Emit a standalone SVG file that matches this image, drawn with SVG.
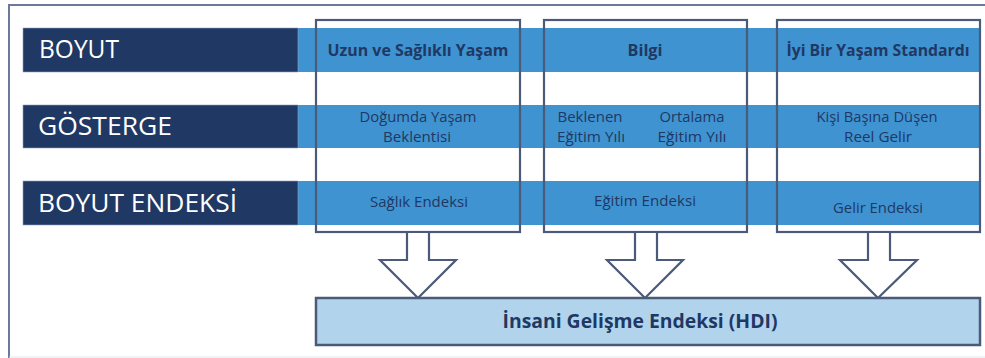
<svg xmlns="http://www.w3.org/2000/svg" width="985" height="358" viewBox="0 0 985 358">
<style>
.frame{fill:none;stroke:#6b7a99;stroke-width:2}
.navy{fill:#1f3864;stroke:#8fa0bf;stroke-width:0.6}
.blue{fill:#3f93d0}
.box{fill:none;stroke:#4a5a78;stroke-width:2.2}
.arrow{fill:#ffffff;stroke:#4a5a78;stroke-width:2.2;stroke-linejoin:miter}
.hdi{fill:#b1d4ec;stroke:#4a5a78;stroke-width:2.5}
.lbl{font-family:"Open Sans","Noto Sans",sans-serif;font-size:25px;fill:#ffffff}
.hd{font-family:"Open Sans","Noto Sans",sans-serif;font-size:15.5px;font-weight:bold;fill:#1f3864;text-anchor:middle}
.tx{font-family:"Open Sans","Noto Sans",sans-serif;font-size:14.5px;fill:#1f3864;text-anchor:middle}
.big{font-family:"Open Sans","Noto Sans",sans-serif;font-size:19.5px;font-weight:bold;fill:#1f3864;text-anchor:middle}
</style>
<rect x="0" y="0" width="985" height="358" fill="#ffffff"/>
<path class="frame" d="M9,358 L9,5 L986,5"/>
<line x1="9" y1="357" x2="985" y2="357" stroke="#e4e6ea" stroke-width="1"/>

<g id="rows">
  <rect class="blue" x="298" y="28" width="682" height="44"/>
  <rect class="blue" x="298" y="105" width="682" height="43"/>
  <rect class="blue" x="298" y="181" width="682" height="44"/>
</g>

<g id="row-boyut">
  <rect class="navy" x="23" y="28" width="275" height="44"/>
  <text class="lbl" x="39" y="58" textLength="80" lengthAdjust="spacingAndGlyphs">BOYUT</text>
</g>
<g id="row-gosterge">
  <rect class="navy" x="23" y="105" width="275" height="43"/>
  <text class="lbl" x="38" y="135" textLength="134" lengthAdjust="spacingAndGlyphs">GÖSTERGE</text>
</g>
<g id="row-boyut-endeksi">
  <rect class="navy" x="23" y="181" width="275" height="44"/>
  <text class="lbl" x="38" y="212" textLength="199" lengthAdjust="spacingAndGlyphs">BOYUT ENDEKSİ</text>
</g>

<g id="col-saglik">
  <rect class="box" x="316" y="20" width="204" height="212"/>
  <text class="hd" x="418" y="56" textLength="181" lengthAdjust="spacingAndGlyphs">Uzun ve Sağlıklı Yaşam</text>
  <text class="tx" x="418" y="122" textLength="117" lengthAdjust="spacingAndGlyphs">Doğumda Yaşam</text>
  <text class="tx" x="417" y="142" textLength="68" lengthAdjust="spacingAndGlyphs">Beklentisi</text>
  <text class="tx" x="419" y="207" textLength="98" lengthAdjust="spacingAndGlyphs">Sağlık Endeksi</text>
</g>
<g id="col-bilgi">
  <rect class="box" x="544" y="20" width="203" height="212"/>
  <text class="hd" x="645" y="56" textLength="35" lengthAdjust="spacingAndGlyphs">Bilgi</text>
  <text class="tx" x="590" y="122" textLength="65" lengthAdjust="spacingAndGlyphs">Beklenen</text>
  <text class="tx" x="591" y="142" textLength="68" lengthAdjust="spacingAndGlyphs">Eğitim Yılı</text>
  <text class="tx" x="692" y="122" textLength="65" lengthAdjust="spacingAndGlyphs">Ortalama</text>
  <text class="tx" x="692" y="142" textLength="69" lengthAdjust="spacingAndGlyphs">Eğitim Yılı</text>
  <text class="tx" x="645" y="206" textLength="102" lengthAdjust="spacingAndGlyphs">Eğitim Endeksi</text>
</g>
<g id="col-gelir">
  <rect class="box" x="777" y="20" width="203" height="212"/>
  <text class="hd" x="878" y="56" textLength="183" lengthAdjust="spacingAndGlyphs">İyi Bir Yaşam Standardı</text>
  <text class="tx" x="877" y="122" textLength="121" lengthAdjust="spacingAndGlyphs">Kişi Başına Düşen</text>
  <text class="tx" x="878" y="142" textLength="68" lengthAdjust="spacingAndGlyphs">Reel Gelir</text>
  <text class="tx" x="878" y="213" textLength="90" lengthAdjust="spacingAndGlyphs">Gelir Endeksi</text>
</g>

<g id="connectors">
  <polygon class="arrow" points="407,232 407,260 380,260 418,298 456,260 429,260 429,232"/>
  <polygon class="arrow" points="635,232 635,260 607,260 645,298 683,260 657,260 657,232"/>
  <polygon class="arrow" points="868,232 868,260 840,260 878,298 917,260 890,260 890,232"/>
</g>

<g id="hdi">
  <rect class="hdi" x="316" y="298" width="664" height="47"/>
  <text class="big" x="640" y="328" textLength="275" lengthAdjust="spacingAndGlyphs">İnsani Gelişme Endeksi (HDI)</text>
</g>
</svg>
